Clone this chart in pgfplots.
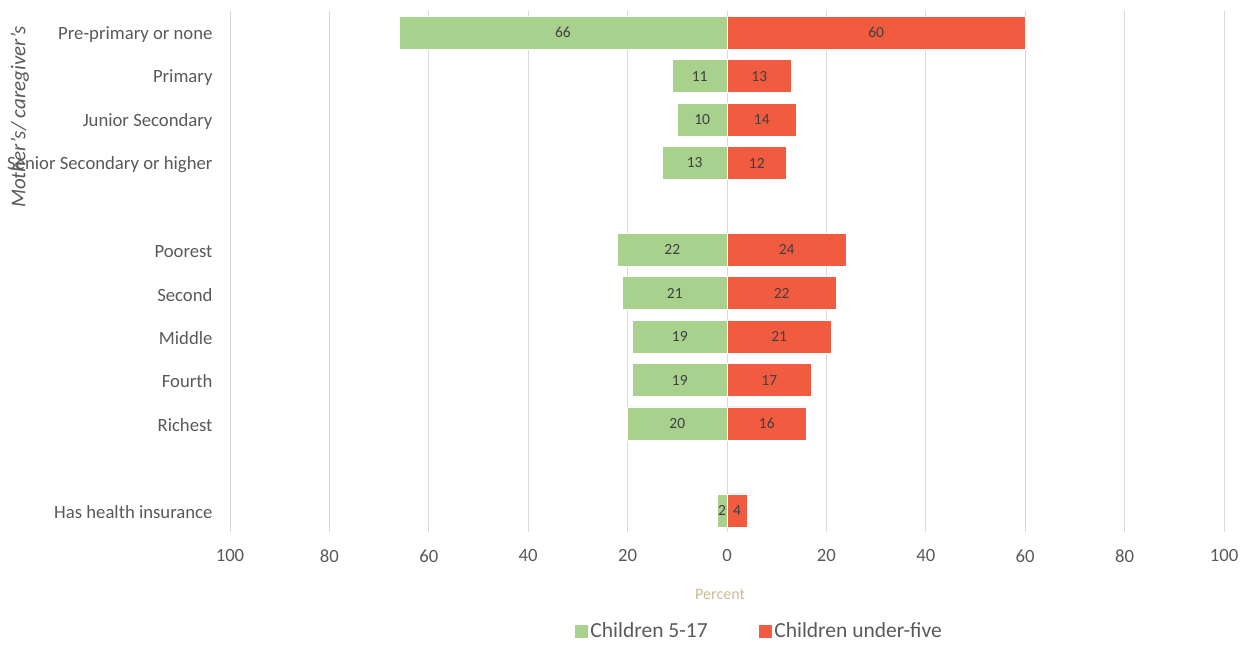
\documentclass[border=0pt]{standalone}
\usepackage{pgfplots}
\pgfplotsset{compat=1.18}
\usepackage{pgfplotstable}
\usepackage{fontspec}
\setmainfont{Carlito}

\definecolor{kidsgreen}{HTML}{A9D18E}
\definecolor{kidsred}{HTML}{F15B40}
\definecolor{gridgray}{HTML}{D9D9D9}
\definecolor{ticktext}{HTML}{595959}
\definecolor{labeltext}{HTML}{404040}
\definecolor{percenttan}{HTML}{C8BC96}

% pos: row slot (0 = top); g: children 5-17; r: children under-five
\pgfplotstableread{
pos g  r
0   66 60
1   11 13
2   10 14
3   13 12
5   22 24
6   21 22
7   19 21
8   19 17
9   20 16
11  2  4
}\gaps

\begin{document}
\begin{tikzpicture}
\path[use as bounding box] (0pt,0pt) rectangle (1255pt,-646pt);
\begin{axis}[
  at={(230pt,-532pt)}, anchor=south west,
  scale only axis, width=994pt, height=521pt,
  xmin=-100, xmax=100, ymin=-0.5, ymax=11.5, y dir=reverse,
  xtick={-100,-80,...,100},
  xticklabels={100,80,60,40,20,0,20,40,60,80,100},
  ytick={0,1,2,3,5,6,7,8,9,11},
  yticklabels={Pre-primary or none, Primary, Junior Secondary, Senior Secondary or higher,
    Poorest, Second, Middle, Fourth, Richest, Has health insurance},
  xmajorgrids, grid style={gridgray, line width=0.8pt},
  axis line style={draw=none}, major tick style={draw=none},
  /pgf/number format/assume math mode=true,
  tick label style={font=\fontsize{18.7}{22}\selectfont, text=ticktext},
  xticklabel style={yshift=-14pt},
  yticklabel style={xshift=-14pt, yshift=-1.5pt},
  xlabel={Percent},
  xlabel style={at={(axis description cs:0.493,-0.119)}, anchor=center,
    font=\fontsize{16}{19}\selectfont, text=percenttan},
  legend style={at={(0.532,-0.19)}, anchor=center, draw=none, fill=none,
    legend columns=2, font=\fontsize{21.5}{25}\selectfont, text=ticktext,
    /tikz/every even column/.append style={column sep=48pt}},
  legend image code/.code={\fill[#1] (0pt,-7pt) rectangle (14pt,7pt);},
  every node near coord/.style={anchor=center, font=\fontsize{15.5}{18}\selectfont, text=labeltext},
]
\addplot[xbar, bar width=33pt, bar shift=0pt, fill=kidsgreen, draw=white, line width=0.6pt]
  table[x expr=-\thisrow{g}, y=pos] {\gaps};
\addlegendentry{Children 5-17}
\addplot[xbar, bar width=33pt, bar shift=0pt, fill=kidsred, draw=white, line width=0.6pt]
  table[x=r, y=pos] {\gaps};
\addlegendentry{Children under-five}
% value labels centred in each bar
\addplot[forget plot, draw=none, mark=none, nodes near coords, point meta=explicit]
  table[x expr=-\thisrow{g}/2, y=pos, meta=g] {\gaps};
\addplot[forget plot, draw=none, mark=none, nodes near coords, point meta=explicit]
  table[x expr=\thisrow{r}/2, y=pos, meta=r] {\gaps};
\end{axis}
% vertical axis caption
\node[rotate=90, anchor=center, font=\fontsize{21}{24}\selectfont\itshape, text=ticktext]
  at (20pt,-117pt) {Mother’s/ caregiver’s};
\end{tikzpicture}
\end{document}
